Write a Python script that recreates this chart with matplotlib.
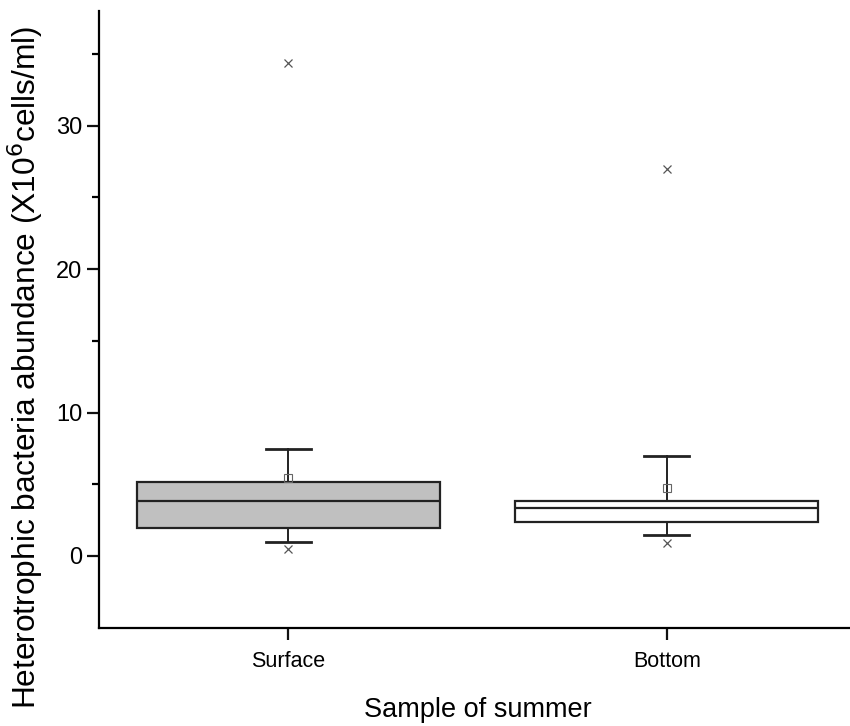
import matplotlib

matplotlib.use("Agg")
import matplotlib.pyplot as plt
from matplotlib.ticker import FixedLocator

# Heterotrophic bacteria abundance (x10^6 cells/ml), summer samples
groups = ["Surface", "Bottom"]
q1 = [1.95, 2.35]
median = [3.83, 3.32]
q3 = [5.17, 3.83]
whisker_lo = [0.97, 1.48]
whisker_hi = [7.45, 6.94]
mean = [5.45, 4.71]
minimum = [0.49, 0.93]
maximum = [34.4, 27.0]
fills = ["#c0c0c0", "#ffffff"]
y_major = [0, 10, 20, 30]
y_minor = [5, 15, 25, 35]

plt.rcParams["font.family"] = ["Liberation Sans", "DejaVu Sans"]

fig = plt.figure(figsize=(8.5, 7.26), dpi=100)
ax = fig.add_axes([0.1165, 0.1354, 0.8906, 0.8494])

stats = []
for i, name in enumerate(groups):
    stats.append({
        "label": name,
        "q1": q1[i], "med": median[i], "q3": q3[i],
        "whislo": whisker_lo[i], "whishi": whisker_hi[i],
        "mean": mean[i],
        "fliers": [minimum[i], maximum[i]],
    })

line_c = "#222222"
bp = ax.bxp(
    stats, positions=[1, 2], widths=0.8, patch_artist=True,
    showmeans=True, showfliers=True, capwidths=0.12,
    boxprops=dict(edgecolor=line_c, linewidth=1.6),
    medianprops=dict(color=line_c, linewidth=1.6),
    whiskerprops=dict(color=line_c, linewidth=1.4),
    capprops=dict(color=line_c, linewidth=2.0),
    meanprops=dict(marker="s", markersize=6, markerfacecolor="none",
                   markeredgecolor="#666666", markeredgewidth=0.8),
    flierprops=dict(marker="x", markersize=6, markeredgecolor="#555555",
                    markeredgewidth=0.9, linestyle="none"),
)
for patch, fc in zip(bp["boxes"], fills):
    patch.set_facecolor(fc)

ax.set_xlim(0.5, 2.5)
ax.set_ylim(-5, 38)
ax.yaxis.set_major_locator(FixedLocator(y_major))
ax.yaxis.set_minor_locator(FixedLocator(y_minor))
ax.set_xticks([1, 2])
ax.set_xticklabels(groups)

for side in ("top", "right"):
    ax.spines[side].set_visible(False)
for side in ("left", "bottom"):
    ax.spines[side].set_linewidth(1.6)

ax.tick_params(axis="both", which="major", direction="out", length=8.5,
               width=1.6, color="#111111")
ax.tick_params(axis="y", which="major", labelsize=17)
ax.tick_params(axis="x", which="major", labelsize=15.5, pad=8)
ax.tick_params(axis="y", which="minor", direction="out", length=5, width=1.6)
ax.tick_params(axis="x", which="minor", bottom=False)

ax.set_xlabel("Sample of summer", fontsize=19.5, labelpad=18)
ax.set_ylabel("Heterotrophic bacteria abundance (X10$^6$cells/ml)",
              fontsize=22.8)
# the long label sits a little below the middle of the axis
ax.yaxis.set_label_coords(-0.072, 0.422)

fig.savefig("out.png", dpi=100)
